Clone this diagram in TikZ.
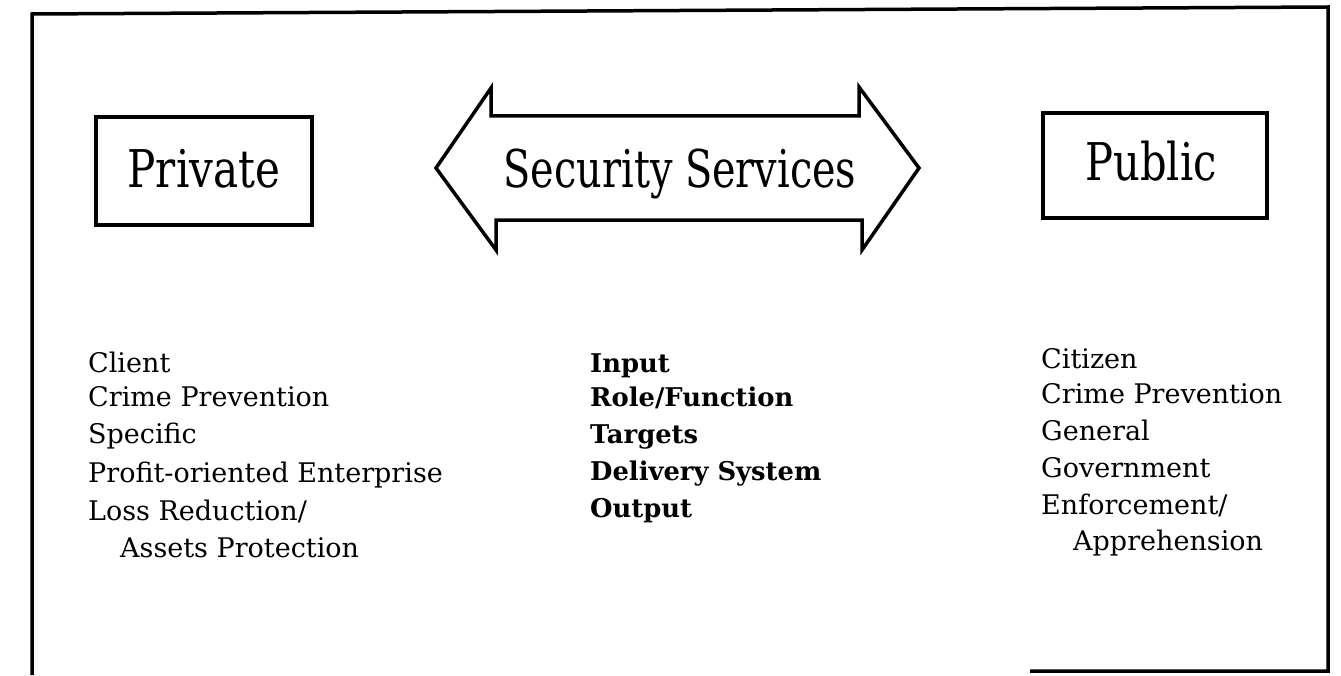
\documentclass[tikz,border=0pt]{standalone}
\usepackage{fontspec}
\usepackage{graphicx}
\setmainfont{DejaVu Serif}
\tikzset{
  ink/.style={line width=3.5bp, draw=black},
  boxshape/.style={ink, rectangle, inner sep=0pt},
  biglabel/.style={anchor=base, inner sep=0pt, font=\fontsize{52bp}{60bp}\selectfont},
  lst/.style={anchor=base west, inner sep=0pt, font=\fontsize{27bp}{32bp}\selectfont},
  lstb/.style={lst, font=\fontsize{25.8bp}{30bp}\selectfont\bfseries}
}
\begin{document}
\begin{tikzpicture}[x=1bp, y=-1bp]
\useasboundingbox (0,0) rectangle (1341,675);
% outer frame
\coordinate (fbl) at (32,675);
\coordinate (ftl) at (32,14);
\coordinate (ftr) at (1328,7);
\coordinate (fbr) at (1328,671);
\coordinate (fbe) at (1030,671);
\draw[ink, line join=miter] (fbl) -- (ftl) -- (ftr) -- (fbr) -- (fbe);

% boxes
\node[boxshape, minimum width=216bp, minimum height=108bp] (privbox) at (204,171) {};
\node[biglabel] (private) at (204,187) {\scalebox{0.81}[1]{Private}};
\node[boxshape, minimum width=224bp, minimum height=105bp] (pubbox) at (1155,165.5) {};
\node[biglabel] (public) at (1151,180) {\scalebox{0.80}[1]{Public}};

% double arrow
\draw[ink, line join=miter] (436,168) -- (491,88) -- (491,116) -- (859,116) -- (859,87)
  -- (919,168) -- (862,250) -- (862,220) -- (496,220) -- (496,250) -- cycle;
\node[biglabel] (security) at (680,187) {\scalebox{0.765}[1]{Security Services}};

% left list
\node[lst] (l1) at (88,372) {Client};
\node[lst] (l2) at (88,406) {Crime Prevention};
\node[lst] (l3) at (88,443) {Specific};
\node[lst] (l4) at (88,482) {Profit-oriented Enterprise};
\node[lst] (l5) at (88,520) {Loss Reduction/};
\node[lst] (l6) at (120,557) {Assets Protection};

% middle list
\node[lstb] (m1) at (590,372) {Input};
\node[lstb] (m2) at (590,406) {Role/Function};
\node[lstb] (m3) at (590,443) {Targets};
\node[lstb] (m4) at (590,480) {Delivery System};
\node[lstb] (m5) at (590,517) {Output};

% right list
\node[lst] (r1) at (1041,368) {Citizen};
\node[lst] (r2) at (1041,403) {Crime Prevention};
\node[lst] (r3) at (1041,440) {General};
\node[lst] (r4) at (1041,477) {Government};
\node[lst] (r5) at (1041,514) {Enforcement/};
\node[lst] (r6) at (1073,550) {Apprehension};
\end{tikzpicture}
\end{document}
